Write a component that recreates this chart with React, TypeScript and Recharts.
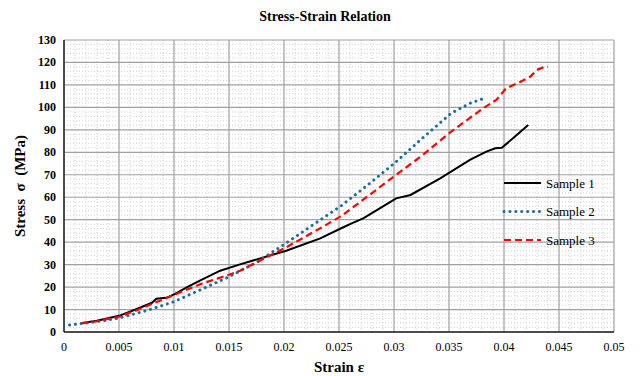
import React from 'react';
import { LineChart, Line, XAxis, YAxis, CartesianGrid, Legend } from 'recharts';

// strain / stress readings per sample
const strain1 = [0.0015, 0.003, 0.005, 0.0065, 0.008, 0.0084, 0.0093, 0.0101, 0.0112, 0.0124, 0.0142, 0.016, 0.018, 0.0202, 0.0233, 0.0252, 0.0262, 0.0272, 0.0287, 0.0302, 0.0315, 0.0342, 0.0369, 0.0384, 0.0392, 0.0398, 0.041, 0.0422];
const stress1 = [3.9, 5, 7.2, 10, 13, 14.8, 15.2, 17, 20, 23, 27.3, 30.1, 33, 36.2, 41.7, 46.2, 48.5, 50.6, 55, 59.5, 61, 68.4, 76.6, 80.3, 81.8, 82, 87, 92.2];

const strain2 = [0.0005, 0.002, 0.0035, 0.005, 0.0075, 0.01, 0.0125, 0.015, 0.0175, 0.0202, 0.0233, 0.0252, 0.0275, 0.0302, 0.0324, 0.0352, 0.0369, 0.038];
const stress2 = [3.1, 4, 5, 6.2, 9.5, 13.5, 19, 24.6, 31, 39.6, 49.9, 56.2, 65, 75.8, 85.5, 97.4, 101.8, 103.7];

const strain3 = [0.0016, 0.003, 0.005, 0.0065, 0.008, 0.01, 0.0125, 0.015, 0.016, 0.0175, 0.0202, 0.0233, 0.0252, 0.0275, 0.0302, 0.0324, 0.0352, 0.0381, 0.0393, 0.0402, 0.0415, 0.0424, 0.043, 0.0437, 0.044];
const stress3 = [3.9, 4.8, 6.8, 9.5, 12.5, 16.5, 21.5, 25.5, 27.3, 31, 37.7, 46.2, 51.6, 60, 70, 78, 89.2, 99.6, 103.3, 108.5, 111.4, 113.7, 116.7, 118.1, 118];

const xTicks = [0, 0.005, 0.01, 0.015, 0.02, 0.025, 0.03, 0.035, 0.04, 0.045, 0.05];
const yTicks = [0, 10, 20, 30, 40, 50, 60, 70, 80, 90, 100, 110, 120, 130];

const toPoints = (xs: number[], ys: number[]) => xs.map((x, i) => ({ strain: x, stress: ys[i] }));

const series = [
  { name: 'Sample 1', data: toPoints(strain1, stress1), color: '#000000', width: 2, dash: undefined, cap: 'butt' },
  { name: 'Sample 2', data: toPoints(strain2, stress2), color: '#1f6e9e', width: 3, dash: '0.1 5.8', cap: 'round' },
  { name: 'Sample 3', data: toPoints(strain3, stress3), color: '#ff0000', width: 2.2, dash: '7 4', cap: 'butt' },
];

// minor gridlines: 5 subdivisions between major ticks
const subdivide = (ticks: number[]) => {
  const out: number[] = [];
  for (let i = 0; i < ticks.length - 1; i++) {
    for (let k = 1; k < 5; k++) out.push(ticks[i] + ((ticks[i + 1] - ticks[i]) * k) / 5);
  }
  return out;
};

const serif = 'Liberation Serif';

const LegendBox = () => (
  <svg width={130} height={80}>
    {series.map((s, i) => (
      <g key={s.name}>
        <line x1={4} x2={41} y1={11 + i * 28.5} y2={11 + i * 28.5} stroke={s.color} strokeWidth={s.width}
          strokeDasharray={s.dash} strokeLinecap={s.cap as any} />
        <text x={46} y={11 + i * 28.5} dominantBaseline="central" style={{ fontFamily: serif, fontSize: 13 }} fill="#000">
          {s.name}
        </text>
      </g>
    ))}
  </svg>
);

const XTick = ({ x, y, payload }: any) => (
  <text x={x} y={y + 11} textAnchor="middle" style={{ fontFamily: serif, fontSize: 12 }} fill="#000">
    {String(+payload.value.toFixed(3))}
  </text>
);

const YTick = ({ x, y, payload }: any) => (
  <text x={x} y={y} textAnchor="end" dominantBaseline="central" style={{ fontFamily: serif, fontSize: 12, fontWeight: 'bold' }} fill="#000">
    {payload.value}
  </text>
);

const YLabel = (props: any) => {
  const vb = props.viewBox;
  const cx = 20;
  const cy = vb.y + vb.height / 2;
  return (
    <text x={cx} y={cy} transform={`rotate(-90 ${cx} ${cy})`} textAnchor="middle" dominantBaseline="central"
      style={{ fontFamily: serif, fontWeight: 'bold', fontSize: 15, whiteSpace: 'pre' }} fill="#000">
      Stress  σ  (MPa)
    </text>
  );
};

const App = () => {
  return (
    <div style={{ position: 'absolute', left: 0, top: 0, width: 640, height: 376, background: '#fff' }}>
      <div style={{ position: 'absolute', left: 0, width: 650, top: 9, textAlign: 'center', fontFamily: serif, fontWeight: 'bold', fontSize: 14 }}>
        Stress-Strain Relation
      </div>
      <LineChart width={640} height={376} margin={{ top: 40, right: 26, bottom: 0, left: 4 }} style={{ fontFamily: serif }}>
        <CartesianGrid stroke="#d2d2d2" strokeDasharray="1 2" horizontalValues={subdivide(yTicks)} verticalValues={subdivide(xTicks)} />
        <CartesianGrid stroke="#a0a0a0" strokeWidth={1.2} horizontalValues={yTicks} verticalValues={xTicks} />
        <XAxis dataKey="strain" type="number" domain={[0, 0.05]} ticks={xTicks} interval={0} height={44}
          allowDuplicatedCategory={false} tickLine={false} axisLine={{ stroke: '#222', strokeWidth: 1.5 }}
          tick={<XTick />}
          label={{ value: 'Strain ε', position: 'insideBottom', offset: 4, fontFamily: serif, fontWeight: 'bold', fontSize: 15, fill: '#000' }} />
        <YAxis type="number" domain={[0, 130]} ticks={yTicks} interval={0} width={60}
          tickLine={false} axisLine={{ stroke: '#222', strokeWidth: 1.5 }}
          tick={<YTick />}
          label={<YLabel />} />
        <Legend layout="vertical" align="center" verticalAlign="middle" content={<LegendBox />}
          wrapperStyle={{ left: 500, top: 172, width: 130 }} />
        {series.map((s) => (
          <Line key={s.name} name={s.name} data={s.data} dataKey="stress" type="linear" stroke={s.color}
            strokeWidth={s.width} strokeDasharray={s.dash} strokeLinecap={s.cap as any} dot={false}
            activeDot={false} isAnimationActive={false} />
        ))}
      </LineChart>
    </div>
  );
};

export default App;
